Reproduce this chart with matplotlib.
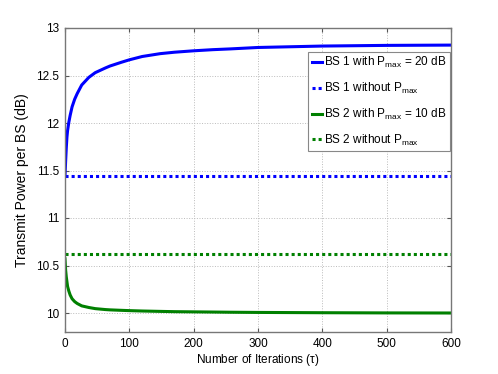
import numpy as np
import matplotlib
matplotlib.use('Agg')
import matplotlib.pyplot as plt

# values
iters = [0, 1, 2, 3, 4, 6, 8, 11, 15, 19, 26, 37, 47, 63, 70, 88, 100, 120, 148, 170, 200, 230, 257, 300, 400, 500, 600]
bs1_pmax = [11.44, 11.60, 11.74, 11.85, 11.92, 12.01, 12.08, 12.17, 12.25, 12.31, 12.40, 12.48, 12.53, 12.58, 12.60, 12.64, 12.665,
            12.70, 12.73, 12.745, 12.76, 12.772, 12.78, 12.795, 12.81, 12.817, 12.82]
bs2_pmax = [10.57, 10.45, 10.38, 10.33, 10.28, 10.23, 10.19, 10.15, 10.12, 10.10, 10.075, 10.058, 10.046, 10.036, 10.033, 10.028,
            10.025, 10.021, 10.017, 10.014, 10.012, 10.010, 10.008, 10.006, 10.003, 10.001, 10.0]
bs1_nopmax = 11.44
bs2_nopmax = 10.62

font = 'Liberation Sans'
plt.rcParams['font.family'] = [font, 'DejaVu Sans']
plt.rcParams['mathtext.fontset'] = 'custom'
plt.rcParams['mathtext.rm'] = font
plt.rcParams['mathtext.it'] = font + ':italic'

fig = plt.figure(figsize=(4.98, 3.74), dpi=100)
ax = fig.add_axes([65/498, 1 - 332/374, 386/498, 304/374])

ax.plot(iters, bs1_pmax, color='#0000ff', lw=2.2, label=r'BS 1 with P$_{\mathrm{max}}$ = 20 dB')
ax.plot([0, 600], [bs1_nopmax, bs1_nopmax], color='#0000ff', lw=2.2, ls=(0, (1, 1)),
        label=r'BS 1 without P$_{\mathrm{max}}$')
ax.plot(iters, bs2_pmax, color='#008000', lw=2.2, label=r'BS 2 with P$_{\mathrm{max}}$ = 10 dB')
ax.plot([0, 600], [bs2_nopmax, bs2_nopmax], color='#008000', lw=2.2, ls=(0, (1, 1)),
        label=r'BS 2 without P$_{\mathrm{max}}$')

ax.set_xlim(0, 600)
ax.set_ylim(9.8, 13)
ax.set_xticks(np.arange(0, 601, 100))
ax.set_yticks([10, 10.5, 11, 11.5, 12, 12.5, 13])
ax.set_yticklabels(['10', '10.5', '11', '11.5', '12', '12.5', '13'])
ax.grid(True, ls=':', color='#bbbbbb', lw=0.7)
ax.tick_params(direction='in', length=3, color='#555555', labelsize=8.5, top=True, right=True, pad=4)
for s in ax.spines.values():
    s.set_color('#777777')
    s.set_linewidth(1)

ax.set_xlabel(r'Number of Iterations ($\mathrm{\tau}$)', fontsize=8.5, labelpad=2)
ax.set_ylabel('Transmit Power per BS (dB)', fontsize=10)
ax.yaxis.set_label_coords(-0.092, 0.5)

leg = ax.legend(loc='upper right', bbox_to_anchor=(0.997, 0.922), prop={'size': 8.5},
                handlelength=0.9, handletextpad=0.15, borderpad=0.3, labelspacing=0.9,
                fancybox=False, framealpha=1, edgecolor='#888888', borderaxespad=0)
leg.get_frame().set_linewidth(0.8)

fig.savefig('out.png', dpi=100)
